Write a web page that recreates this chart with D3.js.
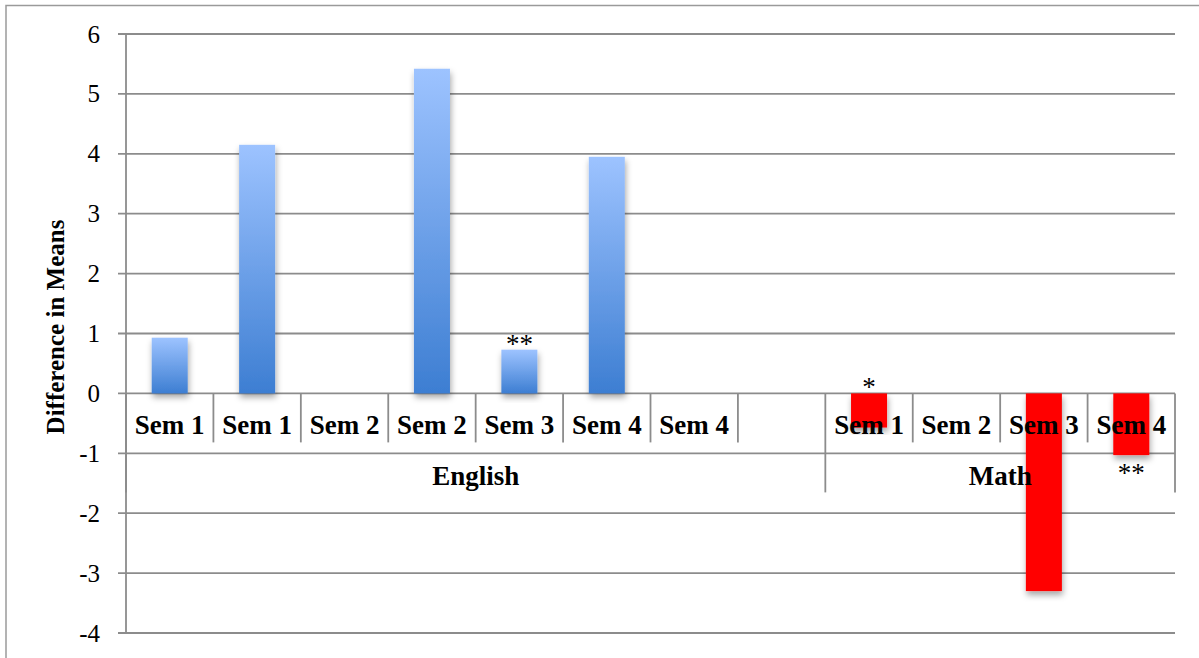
<!DOCTYPE html>
<html>
<head>
<meta charset="utf-8">
<script src="https://cdn.jsdelivr.net/npm/d3@7"></script>
<style>
  body { margin: 0; background: #fff; }
  svg { display: block; }
</style>
</head>
<body>
<svg id="chart" width="1199" height="658"></svg>
<script>
// chart data, one entry per category slot
var semesters = ["Sem 1", "Sem 1", "Sem 2", "Sem 2", "Sem 3", "Sem 4", "Sem 4", "", "Sem 1", "Sem 2", "Sem 3", "Sem 4"];
var subjects = ["English", "English", "English", "English", "English", "English", "English", "English", "Math", "Math", "Math", "Math"];
var values = [0.93, 4.15, 0, 5.42, 0.73, 3.95, 0, null, -0.57, 0, -3.3, -1.03];
var marks = ["", "", "", "", "**", "", "", "", "*", "", "", "**"];
var yTicks = [-4, -3, -2, -1, 0, 1, 2, 3, 4, 5, 6];

var svg = d3.select("#chart"),
  plotLeft = 126, plotRight = 1175, plotTop = 34, plotBottom = 633,
  gridColor = "#8c8c8c",
  serif = "'Liberation Serif', 'Times New Roman', serif";

var x = d3.scaleBand()
  .domain(d3.range(values.length))
  .range([plotLeft, plotRight])
  .padding(0);

var y = d3.scaleLinear()
  .domain([-4, 6])
  .range([plotBottom, plotTop]);

var defs = svg.append("defs");

// blue gradient goes light at the top to darker at the bottom of each bar
var grad = defs.append("linearGradient")
  .attr("id", "blueGrad")
  .attr("x1", 0).attr("y1", 0).attr("x2", 0).attr("y2", 1);
grad.append("stop").attr("offset", "0%").attr("stop-color", "#9dc3ff");
grad.append("stop").attr("offset", "100%").attr("stop-color", "#3d7ed2");

var shadow = defs.append("filter")
  .attr("id", "shadow")
  .attr("x", "-30%").attr("y", "-10%")
  .attr("width", "160%").attr("height", "130%");
shadow.append("feDropShadow")
  .attr("dx", 1).attr("dy", 4)
  .attr("stdDeviation", 3)
  .attr("flood-color", "#000")
  .attr("flood-opacity", 0.35);

// outer frame (top and left edges only are in view)
svg.append("path")
  .attr("d", "M6,658 L6,5.5 L1199,5.5")
  .attr("fill", "none")
  .attr("stroke", "#9a9a9a")
  .attr("stroke-width", 1.5);

// horizontal gridlines with tick stubs on the left
svg.append("g")
  .selectAll("line")
  .data(yTicks)
  .join("line")
  .attr("x1", plotLeft - 8)
  .attr("x2", plotRight)
  .attr("y1", function (d) { return y(d); })
  .attr("y2", function (d) { return y(d); })
  .attr("stroke", gridColor)
  .attr("stroke-width", 1.8);

// y axis labels (plain hyphen for negatives, as in the original)
var yAxis = svg.append("g")
  .attr("transform", "translate(" + plotLeft + ",0)")
  .call(d3.axisLeft(y).tickValues(yTicks).tickSize(0).tickPadding(26)
    .tickFormat(function (d) { return String(d); }));
yAxis.select(".domain").remove();
yAxis.selectAll("text")
  .attr("font-family", serif)
  .attr("font-size", 25)
  .attr("fill", "#000");

// y axis line
svg.append("line")
  .attr("x1", plotLeft).attr("x2", plotLeft)
  .attr("y1", plotTop).attr("y2", plotBottom)
  .attr("stroke", gridColor)
  .attr("stroke-width", 1.8);

// category axis separators
var y0 = y(0), semRow = y0 + 49, groupRow = y(-1), groupBottom = y0 + 99;
var bounds = d3.range(1, values.length + 1);
var groupEdges = [0];
subjects.forEach(function (s, i) {
  if (i > 0 && s !== subjects[i - 1]) groupEdges.push(i);
});
groupEdges.push(values.length);

svg.append("g")
  .selectAll("line")
  .data(bounds.filter(function (b) { return groupEdges.indexOf(b) < 0; }))
  .join("line")
  .attr("x1", function (b) { return plotLeft + b * x.step(); })
  .attr("x2", function (b) { return plotLeft + b * x.step(); })
  .attr("y1", y0).attr("y2", semRow)
  .attr("stroke", gridColor)
  .attr("stroke-width", 1.8);

svg.append("g")
  .selectAll("line")
  .data(groupEdges)
  .join("line")
  .attr("x1", function (b) { return plotLeft + b * x.step(); })
  .attr("x2", function (b) { return plotLeft + b * x.step(); })
  .attr("y1", y0).attr("y2", groupBottom)
  .attr("stroke", gridColor)
  .attr("stroke-width", 1.8);

// bars
var barW = x.bandwidth() * 0.412;
svg.append("g")
  .selectAll("rect")
  .data(values.map(function (v, i) { return { v: v, i: i }; }).filter(function (d) { return d.v !== null && d.v !== 0; }))
  .join("rect")
  .attr("x", function (d) { return x(d.i) + (x.bandwidth() - barW) / 2; })
  .attr("width", barW)
  .attr("y", function (d) { return y(Math.max(0, d.v)); })
  .attr("height", function (d) { return Math.abs(y(d.v) - y(0)); })
  .attr("fill", function (d) { return d.v > 0 ? "url(#blueGrad)" : "#ff0000"; })
  .attr("filter", "url(#shadow)");

// significance marks
svg.append("g")
  .selectAll("text")
  .data(marks.map(function (m, i) { return { m: m, i: i }; }).filter(function (d) { return d.m; }))
  .join("text")
  .attr("x", function (d) { return x(d.i) + x.bandwidth() / 2; })
  .attr("y", function (d) {
    var v = values[d.i];
    if (d.i === 11) return y(v) + 27; // below the bar
    return y(Math.max(v, 0)) + 3;
  })
  .attr("text-anchor", "middle")
  .attr("font-family", serif)
  .attr("font-size", 27)
  .attr("fill", "#000")
  .text(function (d) { return d.m; });

// semester labels
svg.append("g")
  .selectAll("text")
  .data(semesters)
  .join("text")
  .attr("x", function (d, i) { return x(i) + x.bandwidth() / 2; })
  .attr("y", y0 + 41)
  .attr("text-anchor", "middle")
  .attr("font-family", serif)
  .attr("font-weight", "bold")
  .attr("font-size", 27)
  .attr("fill", "#000")
  .text(function (d) { return d; });

// subject labels
var groups = [];
for (var g = 0; g < groupEdges.length - 1; g++) {
  groups.push({ name: subjects[groupEdges[g]], a: groupEdges[g], b: groupEdges[g + 1] });
}
svg.append("g")
  .selectAll("text")
  .data(groups)
  .join("text")
  .attr("x", function (d) { return plotLeft + (d.a + d.b) / 2 * x.step(); })
  .attr("y", groupRow + 32)
  .attr("text-anchor", "middle")
  .attr("font-family", serif)
  .attr("font-weight", "bold")
  .attr("font-size", 27)
  .attr("fill", "#000")
  .text(function (d) { return d.name; });

// y axis title
svg.append("text")
  .attr("transform", "translate(64,327) rotate(-90)")
  .attr("text-anchor", "middle")
  .attr("font-family", serif)
  .attr("font-weight", "bold")
  .attr("font-size", 25)
  .attr("fill", "#000")
  .text("Difference in Means");
</script>
</body>
</html>
